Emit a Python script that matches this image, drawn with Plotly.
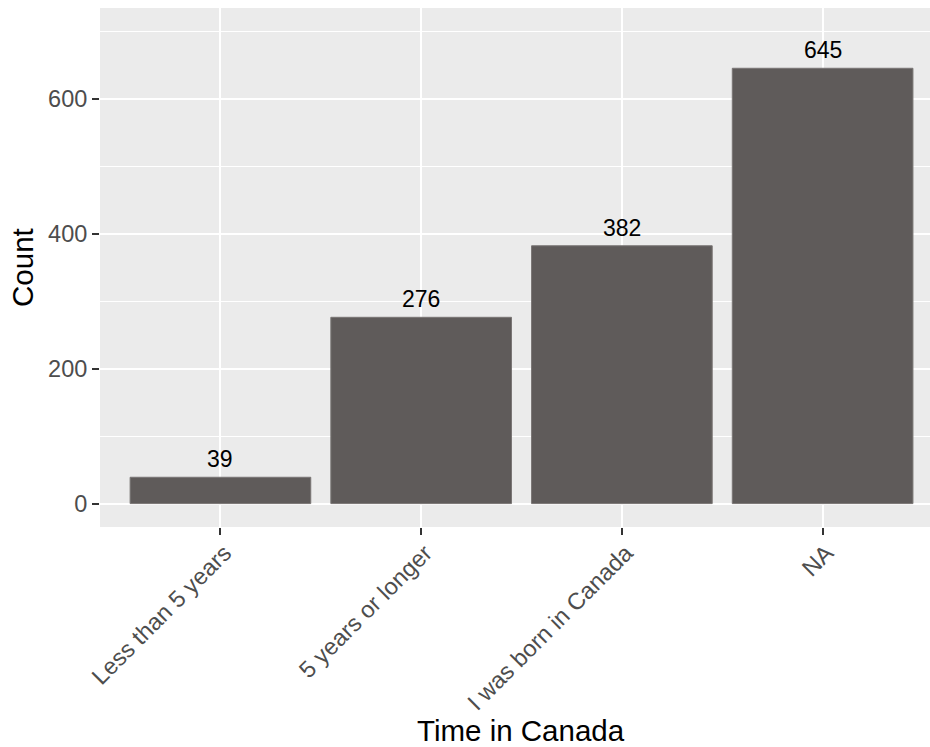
import plotly.graph_objects as go

categories = ["Less than 5 years", "5 years or longer", "I was born in Canada", "NA"]
counts = [39, 276, 382, 645]
y_ticks = [0, 200, 400, 600]
y_minor = [100, 300, 500, 700]

FONT = "Liberation Sans, Arial, sans-serif"

fig = go.Figure()
fig.add_trace(go.Bar(
    x=categories, y=counts, width=0.9,
    marker=dict(color="#5F5B5A", line=dict(color="#7A7675", width=1)),
    hoverinfo="skip",
))

annotations = [
    dict(x=c, y=v, xref="x", yref="y", text=str(v), showarrow=False,
         xanchor="center", yanchor="bottom", yshift=3,
         font=dict(family=FONT, size=23, color="#000000"))
    for c, v in zip(categories, counts)
]
annotations += [
    dict(text="Count", xref="paper", yref="paper", x=-0.0934, y=0.5,
         xanchor="center", yanchor="middle", textangle=-90, showarrow=False,
         font=dict(family=FONT, size=29.5, color="#000000")),
    dict(text="Time in Canada", xref="paper", yref="paper", x=0.5072, y=-0.3915,
         xanchor="center", yanchor="middle", showarrow=False,
         font=dict(family=FONT, size=29.5, color="#000000")),
]

fig.update_layout(
    width=930, height=747,
    margin=dict(l=100, r=0, t=8, b=220),
    paper_bgcolor="white", plot_bgcolor="#EBEBEB",
    showlegend=False,
    font=dict(family=FONT),
    xaxis=dict(
        type="category", range=[-0.6, 3.535],
        showgrid=True, gridcolor="white", gridwidth=2,
        ticks="outside", ticklen=7, tickwidth=2, tickcolor="#333333",
        tickangle=-45, tickfont=dict(family=FONT, size=23.5, color="#4D4D4D"),
        ticklabelstandoff=-5, ticklabelshift=4,
        zeroline=False, showline=False,
    ),
    yaxis=dict(
        range=[-34.7, 734.3],
        tickmode="array", tickvals=y_ticks, ticktext=[str(v) for v in y_ticks],
        showgrid=True, gridcolor="white", gridwidth=2,
        minor=dict(tickmode="array", tickvals=y_minor,
                   showgrid=True, gridcolor="white", gridwidth=1, ticks=""),
        ticks="outside", ticklen=7, tickwidth=2, tickcolor="#333333",
        tickfont=dict(family=FONT, size=23.5, color="#4D4D4D"),
        zeroline=False, showline=False,
    ),
    annotations=annotations,
)

fig.write_html(
    "out.html",
    config={"displayModeBar": False},
    post_script="document.body.style.margin='0';document.body.style.overflow='hidden';",
)
